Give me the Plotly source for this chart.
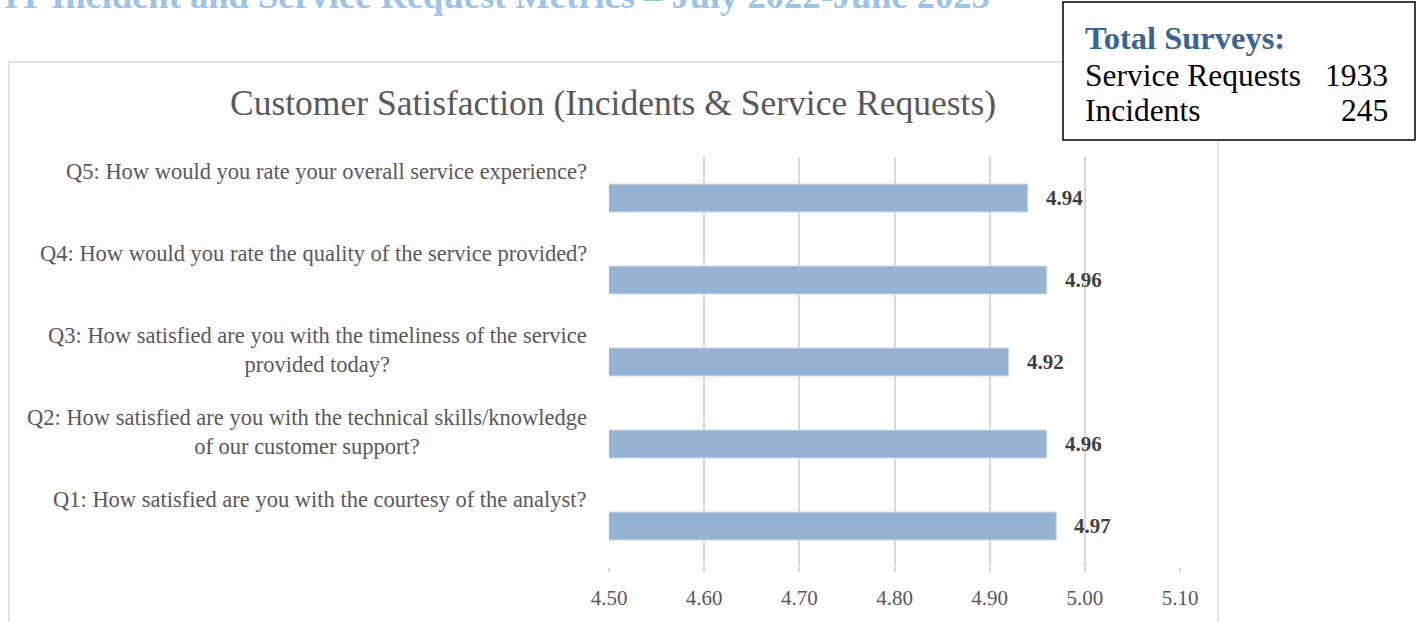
import plotly.graph_objects as go

# Survey questions (bottom to top) and their average scores
questions = [
    "Q1: How satisfied are you with the courtesy of the analyst?",
    "Q2: How satisfied are you with the technical skills/knowledge<br>of our customer support?",
    "Q3: How satisfied are you with the timeliness of the service<br>provided today?",
    "Q4: How would you rate the quality of the service provided?",
    "Q5: How would you rate your overall service experience?",
]
scores = [4.97, 4.96, 4.92, 4.96, 4.94]
x_ticks = [4.50, 4.60, 4.70, 4.80, 4.90, 5.00, 5.10]

survey_labels = ["Service Requests", "Incidents"]
survey_counts = [1933, 245]

W, H = 1416, 622
ML, MR, MT, MB = 609, 236, 157, 55
PW, PH = W - ML - MR, H - MT - MB


def px_x(px):
    return (px - ML) / PW


def px_y(py):
    return (H - MB - py) / PH


cats = [f"c{i}" for i in range(len(questions))]

fig = go.Figure()
fig.add_trace(go.Bar(
    x=scores,
    y=cats,
    orientation="h",
    base=0,
    width=0.34,
    marker=dict(color="#95B4D4", line=dict(color="#C9D9EC", width=1)),
    hoverinfo="x",
    showlegend=False,
))

annotations = []
# Question labels to the left of the plot
for c, q in zip(cats, questions):
    nlines = q.count("<br>") + 1
    annotations.append(dict(
        x=0, xref="paper", xanchor="right", xshift=-20,
        y=c, yref="y", yanchor="middle",
        yshift=26.5 - (nlines - 1) * 14,
        text=q, showarrow=False, align="center",
        font=dict(family="Liberation Serif", size=22.5, color="#595959"),
    ))
# Value labels at the end of each bar
for c, v in zip(cats, scores):
    annotations.append(dict(
        x=v, xref="x", xanchor="left", xshift=16,
        y=c, yref="y", yanchor="middle",
        text=f"<b>{v:.2f}</b>", showarrow=False,
        font=dict(family="Liberation Serif", size=21, color="#404040"),
    ))
# Chart title
annotations.append(dict(
    x=px_x(613), xref="paper", xanchor="center",
    y=px_y(103), yref="paper", yanchor="middle",
    text="Customer Satisfaction (Incidents & Service Requests)", showarrow=False,
    font=dict(family="Liberation Serif", size=35.5, color="#595959"),
))
# Page heading (partly above the visible page)
annotations.append(dict(
    x=px_x(2), xref="paper", xanchor="left",
    y=px_y(18), yref="paper", yanchor="bottom",
    text="<b>IT Incident and Service Request Metrics – July 2022-June 2023</b>",
    showarrow=False,
    font=dict(family="Liberation Serif", size=36.5, color="#9DC3E6"),
))
# Survey totals box
annotations.append(dict(
    x=px_x(1083), xref="paper", xanchor="left",
    y=px_y(38), yref="paper", yanchor="middle",
    text="<b>Total Surveys:</b>", showarrow=False,
    font=dict(family="Liberation Serif", size=32.5, color="#3B6590"),
))
for i, (lab, n) in enumerate(zip(survey_labels, survey_counts)):
    yy = px_y(75 + 36 * i)
    annotations.append(dict(
        x=px_x(1083), xref="paper", xanchor="left",
        y=yy, yref="paper", yanchor="middle",
        text=lab, showarrow=False,
        font=dict(family="Liberation Serif", size=31.5, color="#000000"),
    ))
    annotations.append(dict(
        x=px_x(1390), xref="paper", xanchor="right",
        y=yy, yref="paper", yanchor="middle",
        text=str(n), showarrow=False,
        font=dict(family="Liberation Serif", size=31.5, color="#000000"),
    ))

shapes = [
    # chart frame
    dict(type="rect", xref="paper", yref="paper", layer="below",
         x0=px_x(9), x1=px_x(1218), y0=px_y(640), y1=px_y(62),
         line=dict(color="#D9D9D9", width=1.5), fillcolor="rgba(0,0,0,0)"),
    # totals box
    dict(type="rect", xref="paper", yref="paper", layer="above",
         x0=px_x(1063), x1=px_x(1415), y0=px_y(140), y1=px_y(2),
         line=dict(color="#000000", width=1.5), fillcolor="#FFFFFF"),
]

fig.update_layout(
    width=W, height=H, autosize=False,
    margin=dict(l=ML, r=MR, t=MT, b=MB, pad=0),
    paper_bgcolor="#FFFFFF", plot_bgcolor="#FFFFFF",
    bargap=0.66,
    xaxis=dict(
        range=[4.5, 5.1], tickvals=x_ticks,
        ticktext=[f"{t:.2f}" for t in x_ticks],
        showgrid=True, gridcolor="#D9D9D9", gridwidth=1.5,
        zeroline=False, showline=False,
        ticks="outside", ticklen=4, tickcolor="#D9D9D9", tickwidth=1.5,
        ticklabelstandoff=8,
        tickfont=dict(family="Liberation Serif", size=21, color="#595959"),
    ),
    yaxis=dict(
        categoryorder="array", categoryarray=cats,
        range=[-0.5, len(cats) - 0.5],
        showticklabels=False, showgrid=False, zeroline=False, showline=False,
    ),
    annotations=annotations,
    shapes=shapes,
)

fig.write_html("out.html")
